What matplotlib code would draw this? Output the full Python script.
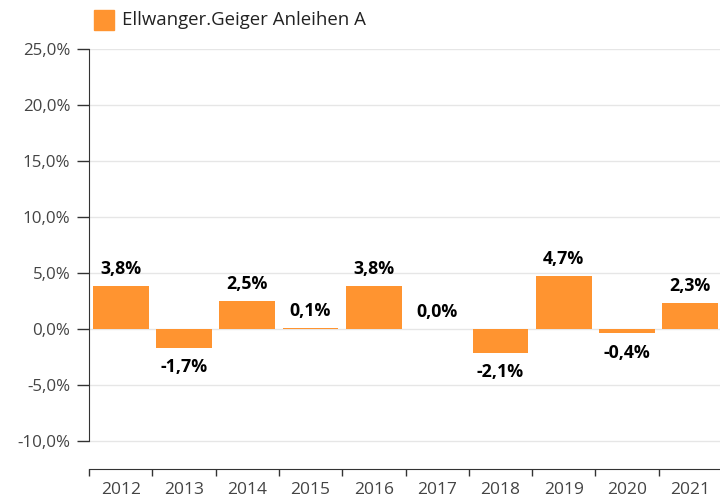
import matplotlib
matplotlib.use("Agg")
import matplotlib.pyplot as plt
from matplotlib.patches import Rectangle
import numpy as np

years = ["2012", "2013", "2014", "2015", "2016", "2017", "2018", "2019", "2020", "2021"]
values = [3.8, -1.7, 2.5, 0.1, 3.8, 0.0, -2.1, 4.7, -0.4, 2.3]
series_name = "Ellwanger.Geiger Anleihen A"
yticks = [-10, -5, 0, 5, 10, 15, 20, 25]

plt.rcParams['font.family'] = ['Open Sans', 'DejaVu Sans']

W, H = 720, 498
fig = plt.figure(figsize=(W / 100, H / 100), dpi=100)
ax = fig.add_axes([89 / W, 29 / H, (722 - 89) / W, (469 - 49) / H])

orange = '#ff9430'
x = np.arange(len(years))
ax.bar(x, values, width=0.88, color=orange, zorder=3)

ax.set_xlim(-0.5, len(years) - 0.5)
ax.set_ylim(-12.5, 25)

ax.set_yticks(yticks)
ax.set_yticklabels([f"{v:.1f}".replace('.', ',') + "%" for v in yticks])
ax.yaxis.grid(True, color='#e6e6e6', linewidth=1, zorder=0)
ax.tick_params(axis='y', length=8.5, width=1, color='#333333', pad=5,
               labelsize=12.2, labelcolor='#444444')

ax.set_xticks(x)
ax.set_xticklabels(years)
ax.set_xticks(np.arange(len(years) + 1) - 0.5, minor=True)
ax.tick_params(axis='x', which='major', length=0, pad=9, labelsize=12.5, labelcolor='#444444')
ax.tick_params(axis='x', which='minor', length=5, width=1, color='#333333')

for s in ['top', 'right']:
    ax.spines[s].set_visible(False)
ax.spines['left'].set_bounds(-10, 25)
ax.spines['left'].set_color('#333333')
ax.spines['bottom'].set_color('#333333')

for xi, v in zip(x, values):
    label = f"{v:.1f}".replace('.', ',') + "%"
    off = 12.5 if v >= 0 else -14
    ax.annotate(label, (xi, v), xytext=(0, off), textcoords='offset points',
                ha='center', va='center', fontsize=12.8, fontweight='bold',
                color='#000000')

fig.patches.append(Rectangle((94 / W, 1 - 30 / H), 20 / W, 20 / H, transform=fig.transFigure,
                             color=orange, figure=fig))
fig.text(122 / W, 1 - 20 / H, series_name, ha='left', va='center', fontsize=13.4, color='#222222')

fig.savefig("out.png", dpi=100)
